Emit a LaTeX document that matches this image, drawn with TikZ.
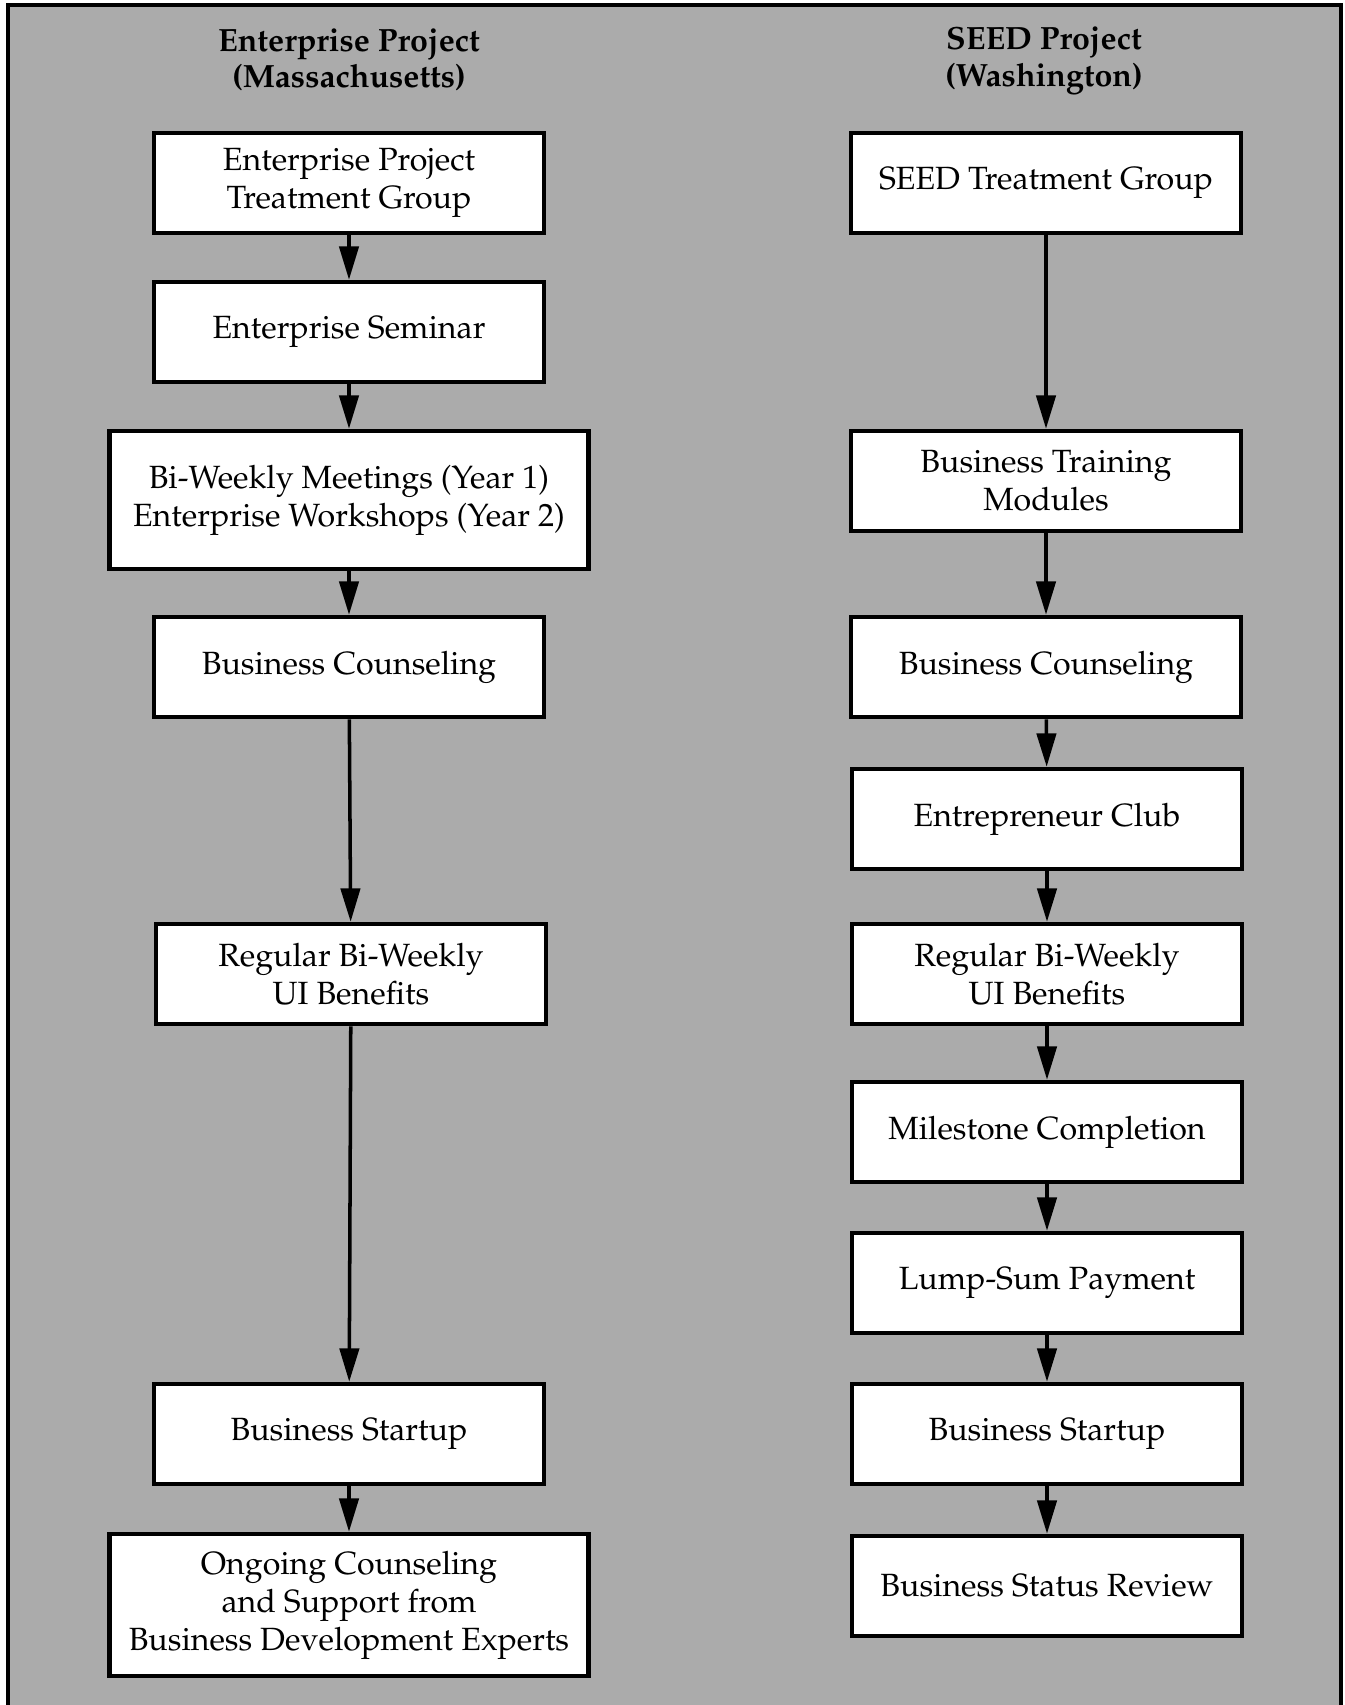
\documentclass[tikz,border=0pt]{standalone}
\usepackage[T1]{fontenc}
\usepackage{mathpazo}
\usetikzlibrary{arrows.meta}

\begin{document}
\begin{tikzpicture}[x=0.02cm, y=-0.02cm, >={Triangle[width=11pt,length=19pt]}]
\tikzstyle{every node}=[font=\fontsize{18.3}{21.6}\selectfont]
\tikzstyle{box}=[draw, line width=2.6pt, fill=white, align=center, minimum width=7.8cm, minimum height=2cm, inner sep=0pt]
\tikzstyle{widebox}=[box, minimum width=9.58cm, minimum height=2.76cm]
\tikzstyle{head}=[font=\fontsize{18.3}{21}\selectfont\bfseries, align=center]
\tikzstyle{link}=[->, line width=2pt]

% Background and frame
\useasboundingbox (0,0) rectangle (1345,1705);
\fill[black!33] (8,5) rectangle (1341,1705);
\draw[line width=2.8pt] (8,1705) -- (8,5) -- (1341,5) -- (1341,1705);

% Headers
\node[head] (enthead) at (349,60) {Enterprise Project\\(Massachusetts)};
\node[head] (seedhead) at (1044,61) {SEED Project\\(Washington)};

% Enterprise column
\node[box] (ent1) at (349,183) {Enterprise Project\\Treatment Group};
\node[box] (ent2) at (349,332) {Enterprise Seminar};
\node[widebox] (ent3) at (349,500) {Bi-Weekly Meetings (Year 1)\\Enterprise Workshops (Year 2)};
\node[box] (ent4) at (349,667) {Business Counseling};
\node[box] (ent5) at (351,974) {Regular Bi-Weekly\\UI Benefits};
\node[box] (ent6) at (349,1434) {Business Startup};
\node[widebox, minimum height=2.84cm] (ent7) at (349,1605) {Ongoing Counseling\\and Support from\\Business Development Experts};
\foreach \a/\b in {1/2,2/3,3/4,4/5,5/6,6/7}
  \draw[link] (ent\a) -- (ent\b);

% SEED column
\node[box] (seed1) at (1046,183) {SEED Treatment Group};
\node[box] (seed2) at (1046,481) {Business Training\\Modules};
\node[box] (seed3) at (1046,667) {Business Counseling};
\node[box] (seed4) at (1047,819) {Entrepreneur Club};
\node[box] (seed5) at (1047,974) {Regular Bi-Weekly\\UI Benefits};
\node[box] (seed6) at (1047,1132) {Milestone Completion};
\node[box] (seed7) at (1047,1283) {Lump-Sum Payment};
\node[box] (seed8) at (1047,1434) {Business Startup};
\node[box] (seed9) at (1047,1586) {Business Status Review};
\foreach \a/\b in {1/2,2/3,3/4,4/5,5/6,6/7,7/8,8/9}
  \draw[link] (seed\a) -- (seed\b);
\end{tikzpicture}
\end{document}
